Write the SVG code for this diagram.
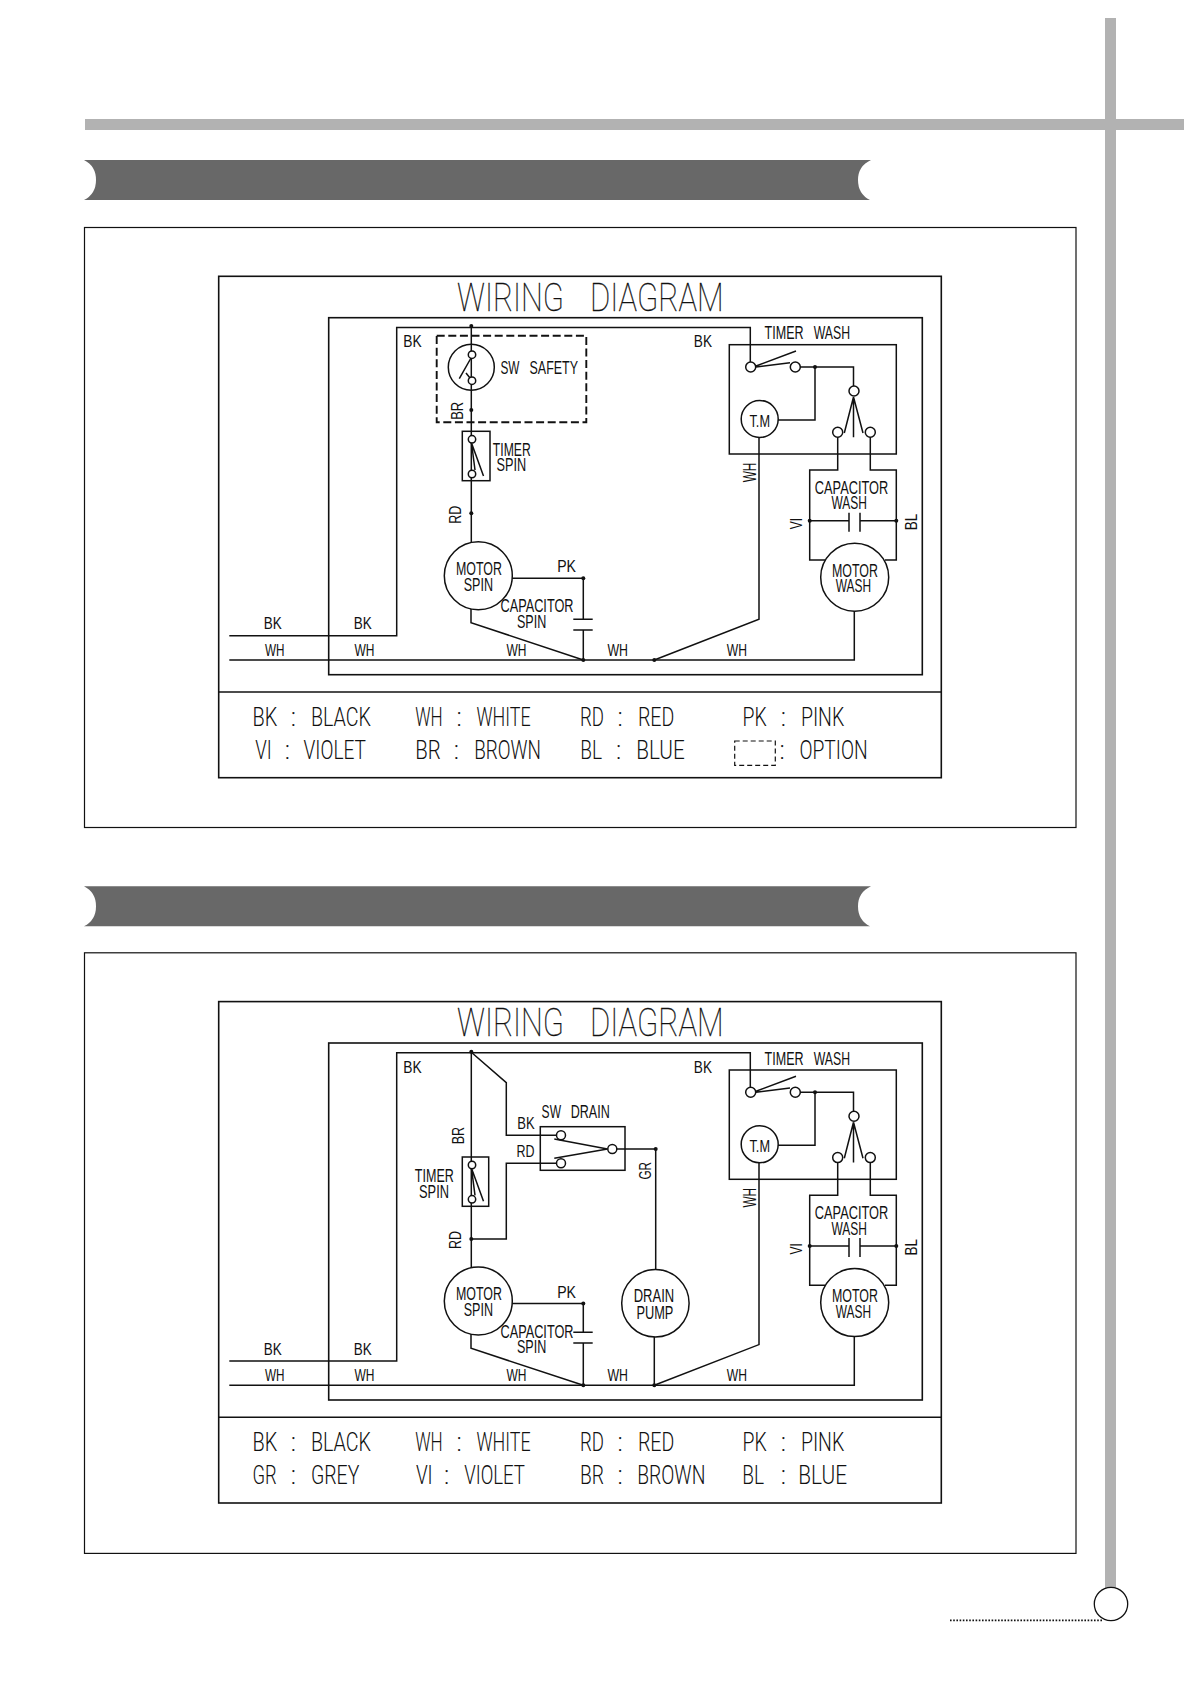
<svg xmlns="http://www.w3.org/2000/svg" width="1190" height="1684" viewBox="0 0 1190 1684">
<style>
.w{fill:none;stroke:#111;stroke-width:1.5}
.c{fill:#fff;stroke:#111;stroke-width:1.5}
.d{fill:#111;stroke:none}
.f{fill:none;stroke:#111;stroke-width:1.6}
.bar{fill:#b2b2b2;stroke:none}
.ban{fill:#686868;stroke:none}
text{fill:#111;font-family:"Liberation Sans",Arial,sans-serif}
.s{font-size:17px}
.m{font-size:18.5px}
.t{font-family:Roboto,"Liberation Sans",sans-serif;font-weight:100;font-size:38.5px;stroke:#111;stroke-width:.35}
.l{font-family:Roboto,"Liberation Sans",sans-serif;font-weight:300;font-size:25px}
</style>
<g id="page">
<rect class="bar" x="85" y="119" width="1099" height="11"/>
<rect class="bar" x="1105" y="18" width="11" height="1570"/>
<circle cx="1111" cy="1604" r="16.7" fill="#fff" stroke="#111" stroke-width="1.3"/>
<line x1="950" y1="1620.3" x2="1103" y2="1620.3" stroke="#111" stroke-width="1.7" stroke-dasharray="1.6 1.6"/>
<path class="ban" d="M84 160H871Q858 166 858 180Q858 194 870 200H84Q96 194 96 180Q96 166 84 160Z"/>
<path class="ban" d="M84 886.2H871Q858 892.2 858 906.2Q858 920.2 870 926.2H84Q96 920.2 96 906.2Q96 892.2 84 886.2Z"/>
<rect x="84.5" y="227.5" width="991.5" height="600" fill="none" stroke="#111" stroke-width="1.2"/>
<rect x="84.5" y="952.8" width="991.5" height="600.6" fill="none" stroke="#111" stroke-width="1.2"/>
</g>

<g id="diagram-1">
<g id="frame-1">
<rect class="f" x="218.7" y="276.3" width="722.6" height="501.4"/>
<line class="f" x1="218.7" y1="692" x2="941.3" y2="692"/>
<rect class="f" x="328.7" y="317.7" width="593.6" height="357"/>
<text class="t" y="310.7"><tspan x="457" textLength="107" lengthAdjust="spacingAndGlyphs">WIRING</tspan> <tspan x="590" textLength="133.5" lengthAdjust="spacingAndGlyphs">DIAGRAM</tspan></text>
</g>
<g id="connectors-1">
<path class="w" d="M229.3 635.7H396.7V327.5H750.3V367"/>
<path class="w" d="M471.3 326V543"/>
<path class="w" d="M471 608V622.7L583.3 660"/>
<path class="w" d="M229.3 660H854.3V611"/>
<path class="w" d="M511.7 578.3H583.3V619.3M583.3 630V660"/>
<path class="w" d="M573.3 619.3H592.7M573.3 630H592.7"/>
<path class="w" d="M654.3 660L759 619.3V437"/>
<path class="w" d="M800 367H853.5V386M815 367V420H778"/>
<path class="w" d="M837.7 437V470H809.7V560H825M870.3 437V470H896.3V560H885"/>
<path class="w" d="M809.7 520.7H849M860 520.7H896.3M849 512.7V531.7M860 512.7V531.7"/>
<circle class="d" cx="471.3" cy="326" r="2"/><circle class="d" cx="471.3" cy="410" r="2"/><circle class="d" cx="471.3" cy="513.3" r="2"/>
<circle class="d" cx="583.3" cy="578.3" r="2"/><circle class="d" cx="583.3" cy="660" r="2"/><circle class="d" cx="654.3" cy="660" r="2"/>
<circle class="d" cx="815" cy="367" r="2"/><circle class="d" cx="809.7" cy="520.7" r="2"/><circle class="d" cx="896.3" cy="520.7" r="2"/>
<text class="s" x="403.2" y="347.3" textLength="18.4" lengthAdjust="spacingAndGlyphs">BK</text>
<text class="s" x="693.8" y="347.3" textLength="18.2" lengthAdjust="spacingAndGlyphs">BK</text>
<text class="s" transform="translate(463 419.8) rotate(-90)" textLength="18" lengthAdjust="spacingAndGlyphs">BR</text>
<text class="s" transform="translate(460.7 523.8) rotate(-90)" textLength="18" lengthAdjust="spacingAndGlyphs">RD</text>
<text class="m" transform="translate(756 482.3) rotate(-90)" textLength="19.6" lengthAdjust="spacingAndGlyphs">WH</text>
<text class="s" transform="translate(801.7 529.3) rotate(-90)" textLength="11.4" lengthAdjust="spacingAndGlyphs">VI</text>
<text class="s" transform="translate(917.3 530.3) rotate(-90)" textLength="16.6" lengthAdjust="spacingAndGlyphs">BL</text>
<text class="s" x="557.2" y="572.3" textLength="18.8" lengthAdjust="spacingAndGlyphs">PK</text>
<text class="s" x="263.8" y="629.3" textLength="18" lengthAdjust="spacingAndGlyphs">BK</text>
<text class="s" x="353.8" y="629.3" textLength="18" lengthAdjust="spacingAndGlyphs">BK</text>
<text class="s" x="265" y="655.7" textLength="19.5" lengthAdjust="spacingAndGlyphs">WH</text>
<text class="s" x="354.5" y="655.7" textLength="20" lengthAdjust="spacingAndGlyphs">WH</text>
<text class="s" x="506.5" y="655.7" textLength="20" lengthAdjust="spacingAndGlyphs">WH</text>
<text class="s" x="607.5" y="655.7" textLength="20.5" lengthAdjust="spacingAndGlyphs">WH</text>
<text class="s" x="726.8" y="655.7" textLength="20.2" lengthAdjust="spacingAndGlyphs">WH</text>
</g>
<g id="sw-safety-1">
<rect x="436.7" y="335.7" width="149.6" height="86.6" fill="none" stroke="#111" stroke-width="1.9" stroke-dasharray="8 3.6"/>
<circle class="w" cx="471.3" cy="367.3" r="23"/>
<circle class="c" cx="472" cy="354.7" r="3.7"/><circle class="c" cx="472" cy="380.7" r="3.7"/>
<path class="w" d="M471 358L459.3 378.7M466 373L470 378"/>
<text class="m" y="374"><tspan x="500.5" textLength="19" lengthAdjust="spacingAndGlyphs">SW</tspan> <tspan x="529.5" textLength="48.5" lengthAdjust="spacingAndGlyphs">SAFETY</tspan></text>
</g>
<g id="timer-spin-1">
<rect class="w" x="462.3" y="431.3" width="27.7" height="49.4"/>
<circle class="c" cx="472" cy="439.3" r="3.7"/><circle class="c" cx="472" cy="474" r="3.7"/>
<path class="w" d="M471.5 443L483.5 476M471.5 443L475 470"/>
<text class="m" x="492.8" y="456" textLength="38" lengthAdjust="spacingAndGlyphs">TIMER</text>
<text class="m" x="496.5" y="471.3" textLength="29.7" lengthAdjust="spacingAndGlyphs">SPIN</text>
</g>
<g id="motor-spin-1">
<circle class="c" cx="478.3" cy="575.7" r="34"/>
<text class="m" x="456" y="575" textLength="46" lengthAdjust="spacingAndGlyphs">MOTOR</text>
<text class="m" x="463.7" y="590.7" textLength="29.3" lengthAdjust="spacingAndGlyphs">SPIN</text>
</g>
<g id="capacitor-spin-1">
<text class="m" x="500.5" y="612" textLength="73" lengthAdjust="spacingAndGlyphs">CAPACITOR</text>
<text class="m" x="517" y="628.3" textLength="29.3" lengthAdjust="spacingAndGlyphs">SPIN</text>
</g>
<g id="timer-wash-1">
<rect class="w" x="729.3" y="344.7" width="167" height="109.3"/>
<circle class="c" cx="750.7" cy="367" r="5"/><circle class="c" cx="795.3" cy="367" r="5"/>
<path class="w" d="M756 367L790 362.7M756 366L796 351"/>
<circle class="c" cx="854" cy="391" r="5"/><circle class="c" cx="837.7" cy="432.3" r="5"/><circle class="c" cx="870.3" cy="432.3" r="5"/>
<path class="w" d="M853.5 397L844.3 433M853.5 397L863 433M853.5 397V437.3"/>
<circle class="c" cx="759.7" cy="419" r="18.5"/>
<text class="s" x="749.5" y="426.7" textLength="20.5" lengthAdjust="spacingAndGlyphs">T.M</text>
<text class="m" y="339.3"><tspan x="764.6" textLength="39" lengthAdjust="spacingAndGlyphs">TIMER</tspan> <tspan x="813.7" textLength="36.3" lengthAdjust="spacingAndGlyphs">WASH</tspan></text>
</g>
<g id="capacitor-wash-1">
<text class="m" x="814.8" y="494" textLength="73.4" lengthAdjust="spacingAndGlyphs">CAPACITOR</text>
<text class="m" x="831.5" y="509.3" textLength="35.5" lengthAdjust="spacingAndGlyphs">WASH</text>
</g>
<g id="motor-wash-1">
<circle class="c" cx="854.7" cy="577.3" r="34"/>
<text class="m" x="832" y="576.7" textLength="46" lengthAdjust="spacingAndGlyphs">MOTOR</text>
<text class="m" x="835.7" y="592.3" textLength="35.3" lengthAdjust="spacingAndGlyphs">WASH</text>
</g>
<g id="legend-1" transform="translate(-0.8 0)">
<text class="l" y="726"><tspan x="253.3" textLength="24.8" lengthAdjust="spacingAndGlyphs">BK</tspan> <tspan x="291.5">:</tspan> <tspan x="311.7" textLength="60" lengthAdjust="spacingAndGlyphs">BLACK</tspan></text>
<text class="l" y="726"><tspan x="416" textLength="27.5" lengthAdjust="spacingAndGlyphs">WH</tspan> <tspan x="457.2">:</tspan> <tspan x="477.3" textLength="54.2" lengthAdjust="spacingAndGlyphs">WHITE</tspan></text>
<text class="l" y="726"><tspan x="580.7" textLength="24" lengthAdjust="spacingAndGlyphs">RD</tspan> <tspan x="618.2">:</tspan> <tspan x="638.7" textLength="36.4" lengthAdjust="spacingAndGlyphs">RED</tspan></text>
<text class="l" y="726"><tspan x="743.3" textLength="24.2" lengthAdjust="spacingAndGlyphs">PK</tspan> <tspan x="781.5">:</tspan> <tspan x="801.7" textLength="43.4" lengthAdjust="spacingAndGlyphs">PINK</tspan></text>
<text class="l" y="758.8"><tspan x="256" textLength="16.5" lengthAdjust="spacingAndGlyphs">VI</tspan> <tspan x="285.5">:</tspan> <tspan x="304.3" textLength="62.5" lengthAdjust="spacingAndGlyphs">VIOLET</tspan></text>
<text class="l" y="758.8"><tspan x="416" textLength="25.5" lengthAdjust="spacingAndGlyphs">BR</tspan> <tspan x="454.5">:</tspan> <tspan x="475" textLength="66.8" lengthAdjust="spacingAndGlyphs">BROWN</tspan></text>
<text class="l" y="758.8"><tspan x="581" textLength="21.8" lengthAdjust="spacingAndGlyphs">BL</tspan> <tspan x="616.9">:</tspan> <tspan x="637" textLength="48.5" lengthAdjust="spacingAndGlyphs">BLUE</tspan></text>
<rect x="735.5" y="741" width="40.6" height="24.3" fill="none" stroke="#111" stroke-width="1.2" stroke-dasharray="5 3"/>
<text class="l" y="758.8"><tspan x="780.2">:</tspan> <tspan x="800.3" textLength="68.2" lengthAdjust="spacingAndGlyphs">OPTION</tspan></text>
</g>
</g>

<g id="diagram-2" transform="translate(0 725.3)">
<g id="frame-2">
<rect class="f" x="218.7" y="276.3" width="722.6" height="501.4"/>
<line class="f" x1="218.7" y1="692" x2="941.3" y2="692"/>
<rect class="f" x="328.7" y="317.7" width="593.6" height="357"/>
<text class="t" y="310.7"><tspan x="457" textLength="107" lengthAdjust="spacingAndGlyphs">WIRING</tspan> <tspan x="590" textLength="133.5" lengthAdjust="spacingAndGlyphs">DIAGRAM</tspan></text>
</g>
<g id="connectors-2">
<path class="w" d="M229.3 635.7H396.7V327.5H750.3V367"/>
<path class="w" d="M471.3 326V543"/>
<path class="w" d="M471 608V623L583.3 660"/>
<path class="w" d="M229.3 660H854.3V611"/>
<path class="w" d="M511.7 578.3H583.3V607M583.3 617.7V660"/>
<path class="w" d="M573.3 607H592.7M573.3 617.7H592.7"/>
<path class="w" d="M654.3 660L759 619.3V437"/>
<path class="w" d="M800 367H853.5V386M815 367V420H778"/>
<path class="w" d="M837.7 437V470H809.7V560H825M870.3 437V470H896.3V560H885"/>
<path class="w" d="M809.7 520.7H849M860 520.7H896.3M849 512.7V531.7M860 512.7V531.7"/>
<path class="w" d="M471.3 327L506.3 357.4V410H556.5M556.5 438H506.3V513.7H471.3"/>
<path class="w" d="M617 423.7H655.7V544M654.3 611.4V660"/>
<circle class="d" cx="471.3" cy="326.5" r="2"/><circle class="d" cx="471.3" cy="513.7" r="2"/><circle class="d" cx="655.7" cy="423.7" r="2"/>
<circle class="d" cx="583.3" cy="578.3" r="2"/><circle class="d" cx="583.3" cy="660" r="2"/><circle class="d" cx="654.3" cy="660" r="2"/>
<circle class="d" cx="815" cy="367" r="2"/><circle class="d" cx="809.7" cy="520.7" r="2"/><circle class="d" cx="896.3" cy="520.7" r="2"/>
<text class="s" x="403.2" y="347.3" textLength="18.4" lengthAdjust="spacingAndGlyphs">BK</text>
<text class="s" x="693.8" y="347.3" textLength="18.2" lengthAdjust="spacingAndGlyphs">BK</text>
<text class="s" x="517.2" y="404" textLength="17.4" lengthAdjust="spacingAndGlyphs">BK</text>
<text class="s" x="516.6" y="431.4" textLength="18" lengthAdjust="spacingAndGlyphs">RD</text>
<text class="s" transform="translate(651 454.3) rotate(-90)" textLength="17.6" lengthAdjust="spacingAndGlyphs">GR</text>
<text class="s" transform="translate(464 419) rotate(-90)" textLength="17.4" lengthAdjust="spacingAndGlyphs">BR</text>
<text class="s" transform="translate(460.7 523.8) rotate(-90)" textLength="18" lengthAdjust="spacingAndGlyphs">RD</text>
<text class="m" transform="translate(756 482.3) rotate(-90)" textLength="19.6" lengthAdjust="spacingAndGlyphs">WH</text>
<text class="s" transform="translate(801.7 529.3) rotate(-90)" textLength="11.4" lengthAdjust="spacingAndGlyphs">VI</text>
<text class="s" transform="translate(917.3 530.3) rotate(-90)" textLength="16.6" lengthAdjust="spacingAndGlyphs">BL</text>
<text class="s" x="557.2" y="572.3" textLength="18.8" lengthAdjust="spacingAndGlyphs">PK</text>
<text class="s" x="263.8" y="629.3" textLength="18" lengthAdjust="spacingAndGlyphs">BK</text>
<text class="s" x="353.8" y="629.3" textLength="18" lengthAdjust="spacingAndGlyphs">BK</text>
<text class="s" x="265" y="655.7" textLength="19.5" lengthAdjust="spacingAndGlyphs">WH</text>
<text class="s" x="354.5" y="655.7" textLength="20" lengthAdjust="spacingAndGlyphs">WH</text>
<text class="s" x="506.5" y="655.7" textLength="20" lengthAdjust="spacingAndGlyphs">WH</text>
<text class="s" x="607.5" y="655.7" textLength="20.5" lengthAdjust="spacingAndGlyphs">WH</text>
<text class="s" x="726.8" y="655.7" textLength="20.2" lengthAdjust="spacingAndGlyphs">WH</text>
</g>
<g id="sw-drain-2">
<rect class="w" x="540.3" y="401.4" width="84.7" height="43.6"/>
<circle class="c" cx="561" cy="410" r="4.5"/><circle class="c" cx="561" cy="438" r="4.5"/><circle class="c" cx="612.3" cy="423.7" r="4.5"/>
<path class="w" d="M554.3 413.7L607.5 423.7L554.3 433"/>
<text class="m" y="392.4"><tspan x="541.6" textLength="19.4" lengthAdjust="spacingAndGlyphs">SW</tspan> <tspan x="570.7" textLength="39" lengthAdjust="spacingAndGlyphs">DRAIN</tspan></text>
</g>
<g id="timer-spin-2">
<rect class="w" x="462.3" y="431.7" width="26.4" height="49.3"/>
<circle class="c" cx="472" cy="439.7" r="3.7"/><circle class="c" cx="472" cy="474" r="3.7"/>
<path class="w" d="M471.5 443L483.5 476M471.5 443L475 470"/>
<text class="m" x="414.8" y="456.4" textLength="39" lengthAdjust="spacingAndGlyphs">TIMER</text>
<text class="m" x="419" y="473" textLength="30" lengthAdjust="spacingAndGlyphs">SPIN</text>
</g>
<g id="motor-spin-2">
<circle class="c" cx="478.3" cy="575.7" r="34"/>
<text class="m" x="456" y="575" textLength="46" lengthAdjust="spacingAndGlyphs">MOTOR</text>
<text class="m" x="463.7" y="590.7" textLength="29.3" lengthAdjust="spacingAndGlyphs">SPIN</text>
</g>
<g id="capacitor-spin-2">
<text class="m" x="500.5" y="612.4" textLength="73" lengthAdjust="spacingAndGlyphs">CAPACITOR</text>
<text class="m" x="517" y="628" textLength="29.3" lengthAdjust="spacingAndGlyphs">SPIN</text>
</g>
<g id="drain-pump-2">
<circle class="c" cx="655.4" cy="578" r="33.7"/>
<text class="m" x="633.7" y="576.7" textLength="40.5" lengthAdjust="spacingAndGlyphs">DRAIN</text>
<text class="m" x="636.4" y="593.7" textLength="37" lengthAdjust="spacingAndGlyphs">PUMP</text>
</g>
<g id="timer-wash-2">
<rect class="w" x="729.3" y="344.7" width="167" height="109.3"/>
<circle class="c" cx="750.7" cy="367" r="5"/><circle class="c" cx="795.3" cy="367" r="5"/>
<path class="w" d="M756 367L790 362.7M756 366L796 351"/>
<circle class="c" cx="854" cy="391" r="5"/><circle class="c" cx="837.7" cy="432.3" r="5"/><circle class="c" cx="870.3" cy="432.3" r="5"/>
<path class="w" d="M853.5 397L844.3 433M853.5 397L863 433M853.5 397V437.3"/>
<circle class="c" cx="759.7" cy="419" r="18.5"/>
<text class="s" x="749.5" y="426.7" textLength="20.5" lengthAdjust="spacingAndGlyphs">T.M</text>
<text class="m" y="339.3"><tspan x="764.6" textLength="39" lengthAdjust="spacingAndGlyphs">TIMER</tspan> <tspan x="813.7" textLength="36.3" lengthAdjust="spacingAndGlyphs">WASH</tspan></text>
</g>
<g id="capacitor-wash-2">
<text class="m" x="814.8" y="494" textLength="73.4" lengthAdjust="spacingAndGlyphs">CAPACITOR</text>
<text class="m" x="831.5" y="509.3" textLength="35.5" lengthAdjust="spacingAndGlyphs">WASH</text>
</g>
<g id="motor-wash-2">
<circle class="c" cx="854.7" cy="577.3" r="34"/>
<text class="m" x="832" y="576.7" textLength="46" lengthAdjust="spacingAndGlyphs">MOTOR</text>
<text class="m" x="835.7" y="592.3" textLength="35.3" lengthAdjust="spacingAndGlyphs">WASH</text>
</g>
<g id="legend-2" transform="translate(-0.8 0)">
<text class="l" y="726"><tspan x="253.3" textLength="24.8" lengthAdjust="spacingAndGlyphs">BK</tspan> <tspan x="291.5">:</tspan> <tspan x="311.7" textLength="60" lengthAdjust="spacingAndGlyphs">BLACK</tspan></text>
<text class="l" y="726"><tspan x="416" textLength="27.5" lengthAdjust="spacingAndGlyphs">WH</tspan> <tspan x="457.2">:</tspan> <tspan x="477.3" textLength="54.2" lengthAdjust="spacingAndGlyphs">WHITE</tspan></text>
<text class="l" y="726"><tspan x="580.7" textLength="24" lengthAdjust="spacingAndGlyphs">RD</tspan> <tspan x="618.2">:</tspan> <tspan x="638.7" textLength="36.4" lengthAdjust="spacingAndGlyphs">RED</tspan></text>
<text class="l" y="726"><tspan x="743.3" textLength="24.2" lengthAdjust="spacingAndGlyphs">PK</tspan> <tspan x="781.5">:</tspan> <tspan x="801.7" textLength="43.4" lengthAdjust="spacingAndGlyphs">PINK</tspan></text>
<text class="l" y="758.8"><tspan x="253.3" textLength="24.2" lengthAdjust="spacingAndGlyphs">GR</tspan> <tspan x="291.5">:</tspan> <tspan x="311.7" textLength="48.4" lengthAdjust="spacingAndGlyphs">GREY</tspan></text>
<text class="l" y="758.8"><tspan x="416.7" textLength="16.8" lengthAdjust="spacingAndGlyphs">VI</tspan> <tspan x="444.9">:</tspan> <tspan x="465" textLength="60.8" lengthAdjust="spacingAndGlyphs">VIOLET</tspan></text>
<text class="l" y="758.8"><tspan x="580.7" textLength="24" lengthAdjust="spacingAndGlyphs">BR</tspan> <tspan x="618.2">:</tspan> <tspan x="638" textLength="68.2" lengthAdjust="spacingAndGlyphs">BROWN</tspan></text>
<text class="l" y="758.8"><tspan x="743" textLength="21.8" lengthAdjust="spacingAndGlyphs">BL</tspan> <tspan x="781.5">:</tspan> <tspan x="799" textLength="48.8" lengthAdjust="spacingAndGlyphs">BLUE</tspan></text>
</g>
</g>
</svg>
